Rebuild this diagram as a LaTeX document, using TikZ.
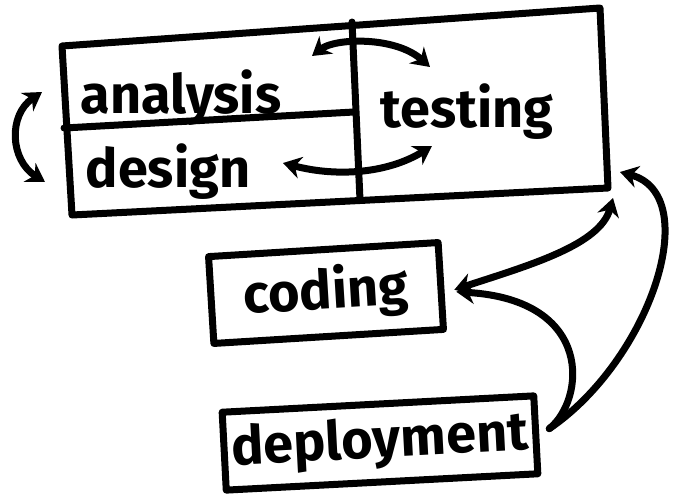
\documentclass[tikz,border=0pt]{standalone}
\usepackage{fontspec}
\setmainfont{Fira Sans}
\usetikzlibrary{arrows.meta}
\begin{document}
\begin{tikzpicture}[x=1pt,y=-1pt,
  ink/.style={line width=7pt, line cap=round, line join=round},
  word/.style={font=\fontsize{54}{60}\selectfont\bfseries, inner sep=0pt, anchor=base},
  stagebox/.style={ink, draw, font=\fontsize{54}{60}\selectfont\bfseries, inner sep=0pt},
  link/.style={ink, -{Stealth[length=18pt,width=22pt]}},
  twoway/.style={ink, {Stealth[length=18pt,width=22pt]}-{Stealth[length=18pt,width=22pt]}},
]
\useasboundingbox (0,0) rectangle (681,499);
\fill[white] (0,0) rectangle (681,499);

% outer frame holding analysis, design and testing
\coordinate (ftl) at (62,46);
\coordinate (ftr) at (600,8);
\coordinate (fbr) at (608,188);
\coordinate (fbl) at (72,215);
\draw[ink] (ftl) -- (ftr) -- (fbr) -- (fbl) -- cycle;
\draw[ink] (352,22) -- (360,200);
\draw[ink] (64,128) -- (354,112);

\node[word] (analysis) at (181,113) {analysis};
\node[word] (design) at (168,187) {design};
\node[word] (testing) at (467,127) {testing};

% separate stages
\node[stagebox, rotate=3.5, minimum width=230pt, minimum height=87pt] (coding) at (326,293) {coding};
\node[stagebox, rotate=3, minimum width=312pt, minimum height=78pt] (deployment) at (380,443) {deployment};

% arrow end points inside the frame
\coordinate (an-l) at (42,92);
\coordinate (de-l) at (45,182);
\coordinate (an-r) at (312,56);
\coordinate (te-t) at (430,67);
\coordinate (de-r) at (283,163);
\coordinate (te-b) at (432,146);
\coordinate (corner-a) at (613,198);
\coordinate (corner-b) at (620,172);

\draw[twoway] (an-l) .. controls (8,115) and (10,160) .. (de-l);
\draw[twoway] (an-r) .. controls (335,38) and (395,36) .. (te-t);
\draw[twoway] (de-r) .. controls (340,178) and (390,172) .. (te-b);

\draw[twoway] ([shift={(10,4)}]coding.east) .. controls (530,265) and (600,245) .. (corner-a);
\draw[link] ([shift={(10,-6)}]deployment.east) .. controls (585,400) and (595,300) .. ([shift={(12,6)}]coding.east);
\draw[link] ([shift={(10,-6)}]deployment.east) .. controls (650,360) and (705,195) .. (corner-b);
\end{tikzpicture}
\end{document}
